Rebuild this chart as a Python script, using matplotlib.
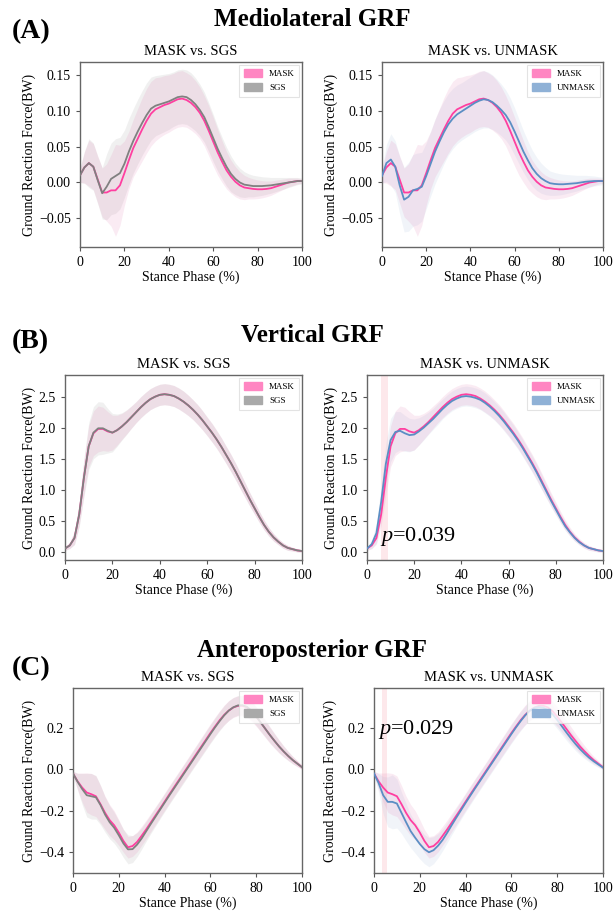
import matplotlib
matplotlib.use('Agg')
import matplotlib.pyplot as plt
import matplotlib.patches as mpatches
import numpy as np

plt.rcParams['font.family'] = ['Liberation Serif', 'DejaVu Serif']
plt.rcParams['mathtext.fontset'] = 'custom'
plt.rcParams['mathtext.rm'] = 'Liberation Serif'
plt.rcParams['mathtext.it'] = 'Liberation Serif:italic'

# stance phase sampled every 2 %
stance = np.arange(0, 101, 2)

# ---- mediolateral GRF (BW) ----
ml_mask_mean = [0.010, 0.021, 0.027, 0.022, 0.004, -0.014, -0.014, -0.011, -0.011, -0.004,
                0.013, 0.031, 0.048, 0.061, 0.074, 0.086, 0.096, 0.102, 0.105, 0.108,
                0.110, 0.113, 0.116, 0.117, 0.115, 0.111, 0.105, 0.097, 0.086, 0.072,
                0.057, 0.042, 0.029, 0.017, 0.008, 0.001, -0.004, -0.007, -0.008, -0.009,
                -0.0095, -0.0095, -0.009, -0.008, -0.006, -0.004, -0.002, 0.000, 0.001, 0.002,
                0.002]
ml_mask_sd = [0.010, 0.022, 0.032, 0.032, 0.033, 0.034, 0.040, 0.050, 0.064, 0.056,
              0.045, 0.040, 0.040, 0.042, 0.044, 0.045, 0.045, 0.044, 0.042, 0.041,
              0.040, 0.039, 0.039, 0.039, 0.038, 0.038, 0.037, 0.036, 0.035, 0.035,
              0.034, 0.032, 0.029, 0.026, 0.023, 0.021, 0.019, 0.017, 0.015, 0.014,
              0.013, 0.012, 0.011, 0.010, 0.009, 0.008, 0.007, 0.006, 0.005, 0.004,
              0.003]
ml_sgs_mean = [0.010, 0.021, 0.027, 0.022, 0.003, -0.015, -0.006, 0.005, 0.009, 0.013,
               0.026, 0.043, 0.058, 0.071, 0.083, 0.094, 0.103, 0.107, 0.109, 0.111,
               0.113, 0.116, 0.119, 0.120, 0.119, 0.115, 0.109, 0.101, 0.091, 0.077,
               0.062, 0.047, 0.034, 0.022, 0.012, 0.005, 0.000, -0.003, -0.004, -0.005,
               -0.005, -0.005, -0.0045, -0.004, -0.003, -0.002, -0.001, 0.000, 0.001, 0.002,
               0.002]
ml_sgs_sd = [0.010, 0.022, 0.034, 0.033, 0.033, 0.036, 0.046, 0.050, 0.052, 0.050,
             0.047, 0.046, 0.045, 0.045, 0.045, 0.045, 0.044, 0.042, 0.041, 0.040,
             0.039, 0.038, 0.038, 0.038, 0.038, 0.038, 0.037, 0.036, 0.035, 0.034,
             0.033, 0.031, 0.029, 0.027, 0.025, 0.022, 0.020, 0.018, 0.016, 0.015,
             0.014, 0.013, 0.012, 0.011, 0.010, 0.009, 0.008, 0.007, 0.006, 0.005,
             0.004]
ml_unmask_mean = [0.009, 0.027, 0.032, 0.022, -0.004, -0.024, -0.020, -0.011, -0.009, -0.006,
                  0.009, 0.026, 0.043, 0.057, 0.070, 0.081, 0.089, 0.095, 0.099, 0.103,
                  0.107, 0.111, 0.114, 0.116, 0.115, 0.112, 0.107, 0.101, 0.094, 0.084,
                  0.071, 0.057, 0.043, 0.031, 0.020, 0.012, 0.006, 0.002, -0.001, -0.002,
                  -0.0025, -0.0025, -0.002, -0.0015, -0.001, 0.000, 0.001, 0.0015, 0.002, 0.002,
                  0.002]
ml_unmask_sd = [0.010, 0.026, 0.036, 0.036, 0.040, 0.045, 0.048, 0.050, 0.050, 0.048,
                0.046, 0.045, 0.045, 0.045, 0.044, 0.043, 0.042, 0.041, 0.040, 0.040,
                0.040, 0.040, 0.040, 0.040, 0.039, 0.038, 0.037, 0.036, 0.035, 0.034,
                0.033, 0.031, 0.029, 0.027, 0.025, 0.023, 0.021, 0.019, 0.017, 0.016,
                0.015, 0.014, 0.013, 0.012, 0.011, 0.010, 0.009, 0.008, 0.007, 0.006,
                0.005]

# ---- vertical GRF (BW) ----
vt_mask_mean = [0.05, 0.10, 0.22, 0.60, 1.20, 1.70, 1.91, 1.98, 1.98, 1.94,
                1.92, 1.96, 2.02, 2.09, 2.17, 2.25, 2.33, 2.40, 2.46, 2.50,
                2.53, 2.54, 2.53, 2.51, 2.47, 2.42, 2.36, 2.29, 2.21, 2.12,
                2.02, 1.92, 1.81, 1.69, 1.56, 1.43, 1.29, 1.14, 0.99, 0.84,
                0.70, 0.56, 0.43, 0.32, 0.23, 0.16, 0.10, 0.06, 0.04, 0.02,
                0.01]
vt_mask_sd = [0.03, 0.05, 0.10, 0.18, 0.28, 0.33, 0.36, 0.37, 0.35, 0.32,
              0.28, 0.24, 0.21, 0.19, 0.18, 0.17, 0.17, 0.17, 0.17, 0.17,
              0.17, 0.17, 0.17, 0.17, 0.17, 0.17, 0.165, 0.16, 0.16, 0.155,
              0.15, 0.15, 0.145, 0.145, 0.14, 0.14, 0.135, 0.13, 0.12, 0.11,
              0.10, 0.09, 0.08, 0.07, 0.06, 0.05, 0.045, 0.04, 0.03, 0.025,
              0.02]
vt_sgs_mean = [0.05, 0.10, 0.22, 0.60, 1.20, 1.70, 1.92, 1.99, 1.99, 1.95,
               1.92, 1.96, 2.02, 2.09, 2.17, 2.25, 2.33, 2.40, 2.46, 2.50,
               2.53, 2.54, 2.53, 2.51, 2.47, 2.42, 2.36, 2.29, 2.21, 2.12,
               2.02, 1.92, 1.81, 1.69, 1.56, 1.43, 1.29, 1.14, 0.99, 0.84,
               0.70, 0.56, 0.43, 0.32, 0.23, 0.16, 0.10, 0.06, 0.04, 0.02,
               0.01]
vt_sgs_sd = [0.03, 0.05, 0.11, 0.20, 0.31, 0.38, 0.42, 0.43, 0.42, 0.36,
             0.31, 0.26, 0.22, 0.20, 0.18, 0.17, 0.17, 0.17, 0.17, 0.17,
             0.17, 0.17, 0.17, 0.17, 0.17, 0.17, 0.165, 0.16, 0.16, 0.155,
             0.15, 0.15, 0.145, 0.145, 0.14, 0.14, 0.135, 0.13, 0.12, 0.11,
             0.10, 0.09, 0.08, 0.07, 0.06, 0.05, 0.045, 0.04, 0.03, 0.025,
             0.02]
vt_unmask_mean = [0.05, 0.12, 0.30, 0.80, 1.42, 1.80, 1.93, 1.95, 1.91, 1.88,
                  1.89, 1.94, 2.00, 2.07, 2.14, 2.22, 2.30, 2.37, 2.43, 2.47,
                  2.50, 2.51, 2.50, 2.48, 2.45, 2.40, 2.34, 2.27, 2.19, 2.10,
                  2.00, 1.90, 1.79, 1.67, 1.54, 1.41, 1.27, 1.12, 0.97, 0.82,
                  0.68, 0.54, 0.41, 0.31, 0.22, 0.15, 0.10, 0.06, 0.04, 0.02,
                  0.01]
vt_unmask_sd = [0.03, 0.07, 0.16, 0.26, 0.33, 0.35, 0.33, 0.31, 0.29, 0.27,
                0.25, 0.22, 0.20, 0.18, 0.17, 0.17, 0.16, 0.16, 0.16, 0.16,
                0.16, 0.16, 0.16, 0.16, 0.16, 0.16, 0.155, 0.15, 0.15, 0.15,
                0.145, 0.145, 0.14, 0.14, 0.135, 0.13, 0.13, 0.12, 0.11, 0.10,
                0.09, 0.08, 0.07, 0.06, 0.05, 0.045, 0.04, 0.035, 0.03, 0.025,
                0.02]

# ---- anteroposterior GRF (BW) ----
ap_mask_mean = [-0.020, -0.058, -0.088, -0.112, -0.120, -0.130, -0.168, -0.210, -0.245, -0.270,
                -0.305, -0.345, -0.376, -0.370, -0.350, -0.320, -0.289, -0.256, -0.223, -0.190,
                -0.156, -0.122, -0.089, -0.056, -0.023, 0.010, 0.043, 0.076, 0.109, 0.142,
                0.175, 0.206, 0.236, 0.262, 0.283, 0.298, 0.306, 0.306, 0.298, 0.280,
                0.254, 0.225, 0.195, 0.165, 0.137, 0.110, 0.086, 0.064, 0.044, 0.027,
                0.010]
ap_mask_sd = [0.010, 0.040, 0.070, 0.095, 0.100, 0.098, 0.090, 0.080, 0.075, 0.070,
              0.062, 0.055, 0.052, 0.050, 0.048, 0.046, 0.045, 0.044, 0.043, 0.042,
              0.042, 0.042, 0.042, 0.042, 0.042, 0.042, 0.043, 0.043, 0.044, 0.044,
              0.045, 0.045, 0.046, 0.047, 0.048, 0.048, 0.048, 0.048, 0.048, 0.048,
              0.047, 0.045, 0.042, 0.040, 0.036, 0.032, 0.027, 0.022, 0.018, 0.014,
              0.010]
ap_sgs_mean = [-0.020, -0.060, -0.095, -0.125, -0.130, -0.135, -0.172, -0.218, -0.255, -0.282,
               -0.318, -0.357, -0.386, -0.385, -0.363, -0.333, -0.298, -0.263, -0.229, -0.195,
               -0.161, -0.127, -0.094, -0.061, -0.028, 0.005, 0.038, 0.071, 0.104, 0.137,
               0.170, 0.202, 0.232, 0.260, 0.283, 0.299, 0.308, 0.309, 0.301, 0.282,
               0.255, 0.225, 0.195, 0.165, 0.137, 0.110, 0.086, 0.064, 0.044, 0.027,
               0.010]
ap_sgs_sd = [0.010, 0.040, 0.075, 0.105, 0.110, 0.105, 0.095, 0.085, 0.080, 0.075,
             0.070, 0.068, 0.070, 0.065, 0.058, 0.052, 0.048, 0.046, 0.045, 0.044,
             0.043, 0.043, 0.043, 0.043, 0.043, 0.043, 0.043, 0.044, 0.044, 0.045,
             0.045, 0.046, 0.046, 0.047, 0.047, 0.047, 0.047, 0.047, 0.046, 0.045,
             0.044, 0.042, 0.040, 0.037, 0.034, 0.030, 0.026, 0.022, 0.018, 0.014,
             0.010]
ap_unmask_mean = [-0.020, -0.066, -0.125, -0.157, -0.157, -0.165, -0.210, -0.255, -0.298, -0.330,
                  -0.360, -0.385, -0.400, -0.390, -0.368, -0.340, -0.305, -0.268, -0.232, -0.197,
                  -0.162, -0.128, -0.094, -0.061, -0.028, 0.005, 0.038, 0.071, 0.104, 0.137,
                  0.170, 0.202, 0.232, 0.260, 0.282, 0.296, 0.300, 0.297, 0.285, 0.265,
                  0.238, 0.208, 0.178, 0.149, 0.122, 0.097, 0.075, 0.055, 0.038, 0.023,
                  0.008]
ap_unmask_sd = [0.010, 0.045, 0.090, 0.120, 0.130, 0.118, 0.100, 0.090, 0.080, 0.075,
                0.072, 0.070, 0.070, 0.065, 0.058, 0.052, 0.048, 0.046, 0.045, 0.044,
                0.043, 0.043, 0.043, 0.043, 0.043, 0.043, 0.043, 0.044, 0.044, 0.045,
                0.045, 0.046, 0.046, 0.046, 0.046, 0.046, 0.046, 0.045, 0.044, 0.043,
                0.042, 0.040, 0.038, 0.035, 0.032, 0.028, 0.024, 0.020, 0.017, 0.014,
                0.010]

# significant windows (stance %) and their p values
vt_sig_window = (6.0, 8.8)
vt_p_text = 0.039
ap_sig_window = (3.4, 5.8)
ap_p_text = 0.029

MASK_LINE = '#ff3fa0'
SGS_LINE = '#808080'
UNMASK_LINE = '#5b8ec4'
MASK_PATCH = '#ff86c2'
SGS_PATCH = '#a9a9a9'
UNMASK_PATCH = '#8fb1d6'

W, H = 613, 911
fig = plt.figure(figsize=(W / 100, H / 100), dpi=100)


def px_axes(left, right, top, bottom):
    return fig.add_axes([left / W, 1 - bottom / H, (right - left) / W, (bottom - top) / H])


def draw_panel(ax, other_mean, other_sd, other_label, other_line, other_patch, other_band,
               mask_mean, mask_sd, ylim, title):
    m = np.array(mask_mean)
    s = np.array(mask_sd)
    om = np.array(other_mean)
    osd = np.array(other_sd)
    ax.fill_between(stance, om - osd, om + osd, color=other_band, alpha=0.14, lw=0)
    ax.fill_between(stance, m - s, m + s, color='#e07ab0', alpha=0.15, lw=0)
    ax.plot(stance, om, color=other_line, lw=1.3, zorder=3)
    ax.plot(stance, m, color=MASK_LINE, lw=1.3, zorder=2)
    ax.set_xlim(0, 100)
    ax.set_ylim(*ylim)
    ax.set_xticks([0, 20, 40, 60, 80, 100])
    ax.tick_params(labelsize=10, length=3, width=0.8, color='#555555')
    for sp in ax.spines.values():
        sp.set_color('#666666')
        sp.set_linewidth(1.0)
    ax.set_title(title, fontsize=10.5, pad=5)
    ax.set_xlabel('Stance Phase (%)', fontsize=10, labelpad=1)
    ax.set_ylabel('Ground Reaction Force(BW)', fontsize=10, labelpad=2)
    handles = [mpatches.Patch(color=MASK_PATCH, label='MASK'),
               mpatches.Patch(color=other_patch, label=other_label)]
    leg = ax.legend(handles=handles, loc='upper right', fontsize=6.5, frameon=True,
                    fancybox=False, edgecolor='#dddddd', handlelength=2.0, handleheight=1.0,
                    borderpad=0.5, labelspacing=0.5, borderaxespad=0.3)
    leg.get_frame().set_linewidth(0.8)


ml_lim = (-0.09, 0.168)
vt_lim = (-0.135, 2.85)
ap_lim = (-0.50, 0.392)

# row A
ax = px_axes(80, 302, 62, 247)
draw_panel(ax, ml_sgs_mean, ml_sgs_sd, 'SGS', SGS_LINE, SGS_PATCH, '#9a9a9a',
           ml_mask_mean, ml_mask_sd, ml_lim, 'MASK vs. SGS')
ax = px_axes(382, 603, 62, 247)
draw_panel(ax, ml_unmask_mean, ml_unmask_sd, 'UNMASK', UNMASK_LINE, UNMASK_PATCH, '#9cb8d8',
           ml_mask_mean, ml_mask_sd, ml_lim, 'MASK vs. UNMASK')

# row B
ax = px_axes(65, 302, 375, 560)
draw_panel(ax, vt_sgs_mean, vt_sgs_sd, 'SGS', SGS_LINE, SGS_PATCH, '#9a9a9a',
           vt_mask_mean, vt_mask_sd, vt_lim, 'MASK vs. SGS')
ax = px_axes(367, 603, 375, 560)
draw_panel(ax, vt_unmask_mean, vt_unmask_sd, 'UNMASK', UNMASK_LINE, UNMASK_PATCH, '#9cb8d8',
           vt_mask_mean, vt_mask_sd, vt_lim, 'MASK vs. UNMASK')
ax.axvspan(*vt_sig_window, color='#fcd3d8', alpha=0.5, lw=0, zorder=0)
ax.text(5.5, 0.17, r'$p$=%.3f' % vt_p_text, fontsize=16, va='baseline', ha='left')

# row C
ax = px_axes(73, 302, 688, 873)
draw_panel(ax, ap_sgs_mean, ap_sgs_sd, 'SGS', SGS_LINE, SGS_PATCH, '#9a9a9a',
           ap_mask_mean, ap_mask_sd, ap_lim, 'MASK vs. SGS')
ax = px_axes(374, 603, 688, 873)
draw_panel(ax, ap_unmask_mean, ap_unmask_sd, 'UNMASK', UNMASK_LINE, UNMASK_PATCH, '#9cb8d8',
           ap_mask_mean, ap_mask_sd, ap_lim, 'MASK vs. UNMASK')
ax.axvspan(*ap_sig_window, color='#fcd3d8', alpha=0.5, lw=0, zorder=0)
ax.text(1.8, 0.17, r'$p$=%.3f' % ap_p_text, fontsize=16, va='baseline', ha='left')

# section headings
for title, letter, ty, ly in [('Mediolateral GRF', '(A)', 20, 32),
                              ('Vertical GRF', '(B)', 335, 342),
                              ('Anteroposterior GRF', '(C)', 651, 669)]:
    fig.text(312 / W, 1 - ty / H, title, fontsize=18, fontweight='bold', ha='center', va='center')
    fig.text(12 / W, 1 - ly / H, letter, fontsize=20, fontweight='bold', ha='left', va='center')

fig.savefig('out.png', dpi=100)
